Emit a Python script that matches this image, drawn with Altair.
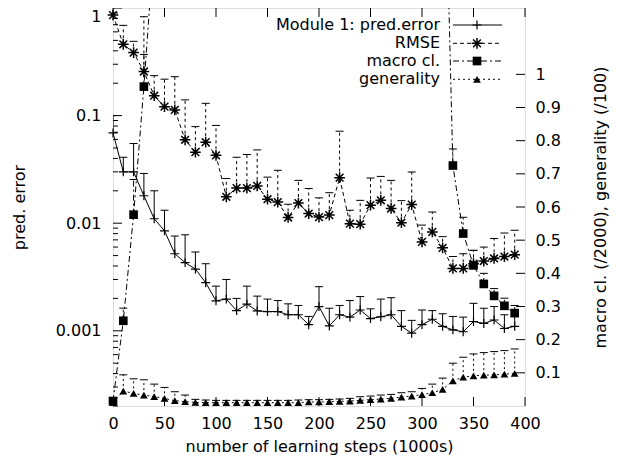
import altair as alt
import pandas as pd

# ---------------- data ----------------
steps = list(range(0, 400, 10))

pred_err = [0.069, 0.030, 0.030, 0.018, 0.011, 0.0085, 0.0052, 0.0043, 0.00375, 0.0028,
            0.0019, 0.00197, 0.00154, 0.00177, 0.00153, 0.00151, 0.00151, 0.00141, 0.00141, 0.00114,
            0.00168, 0.00111, 0.00141, 0.00134, 0.00156, 0.0013, 0.00135, 0.00141, 0.0011, 0.00095,
            0.00114, 0.00128, 0.0011, 0.00102, 0.00098, 0.00122, 0.00117, 0.00126, 0.00105, 0.0011]
pred_err_top = [0.1, 0.041, 0.055, 0.029, 0.020, 0.0132, 0.0076, 0.0078, 0.0054, 0.0042,
                0.0026, 0.0030, 0.0020, 0.0026, 0.0021, 0.00197, 0.00191, 0.00178, 0.00172, 0.00136,
                0.00257, 0.00162, 0.00172, 0.00191, 0.00208, 0.0016, 0.00197, 0.00203, 0.00154, 0.00125,
                0.00156, 0.00154, 0.00144, 0.00136, 0.00134, 0.0018, 0.00162, 0.00168, 0.00141, 0.00136]

rmse = [0.86, 0.46, 0.385, 0.257, 0.153, 0.121, 0.113, 0.0596, 0.0457, 0.0566,
        0.0427, 0.0176, 0.0212, 0.0212, 0.0222, 0.0167, 0.0157, 0.0113, 0.0154, 0.0123,
        0.0114, 0.0119, 0.0265, 0.0099, 0.0098, 0.0147, 0.0163, 0.0137, 0.0101, 0.0149,
        0.0067, 0.0083, 0.0059, 0.0038, 0.0038, 0.0042, 0.00445, 0.0047, 0.0049, 0.0051]
rmse_top = [1.3, 0.69, 0.49, 0.83, 0.235, 0.218, 0.23, 0.14, 0.079, 0.13,
            0.081, 0.026, 0.041, 0.0435, 0.048, 0.0268, 0.031, 0.015, 0.025, 0.021,
            0.0172, 0.0192, 0.0716, 0.0132, 0.0163, 0.0263, 0.0272, 0.025, 0.0162, 0.0299,
            0.0096, 0.0127, 0.0075, 0.0049, 0.0052, 0.0056, 0.006, 0.0072, 0.0081, 0.0086]

macro = [0.015, 0.257, 0.577, 0.963, 1.4, 1.6, 1.75, 1.85, 1.9, 1.95,
         2.0, 2.0, 2.05, 2.05, 2.05, 2.1, 2.1, 2.1, 2.1, 2.1,
         2.1, 2.1, 2.1, 2.1, 2.1, 2.1, 2.1, 2.1, 2.05, 2.05,
         2.05, 2.0, 1.96, 0.725, 0.52, 0.424, 0.368, 0.332, 0.302, 0.28]
macro_top = [0.02, 0.295, 0.683, 1.06, 1.5, 1.7, 1.85, 1.95, 2.0, 2.05,
             2.1, 2.1, 2.15, 2.15, 2.15, 2.2, 2.2, 2.2, 2.2, 2.2,
             2.2, 2.2, 2.2, 2.2, 2.2, 2.2, 2.2, 2.2, 2.15, 2.15,
             2.15, 2.1, 2.06, 0.775, 0.569, 0.469, 0.40, 0.354, 0.325, 0.303]

gen = [0.01, 0.045, 0.038, 0.033, 0.028, 0.023, 0.016, 0.013, 0.011, 0.010,
       0.010, 0.010, 0.010, 0.010, 0.010, 0.010, 0.010, 0.010, 0.010, 0.012,
       0.012, 0.013, 0.014, 0.015, 0.017, 0.019, 0.021, 0.023, 0.027, 0.030,
       0.034, 0.040, 0.050, 0.076, 0.087, 0.091, 0.093, 0.094, 0.096, 0.098]
gen_top = [0.01, 0.094, 0.082, 0.079, 0.066, 0.056, 0.043, 0.033, 0.020, 0.018,
           0.017, 0.017, 0.017, 0.017, 0.017, 0.017, 0.017, 0.017, 0.018, 0.019,
           0.019, 0.020, 0.021, 0.023, 0.028, 0.030, 0.033, 0.035, 0.040, 0.043,
           0.053, 0.066, 0.084, 0.129, 0.147, 0.157, 0.161, 0.164, 0.167, 0.172]

legend_labels = ["Module 1: pred.error", "RMSE", "macro cl.", "generality"]
x_ticks = [0, 50, 100, 150, 200, 250, 300, 350, 400]
left_ticks = [0.001, 0.01, 0.1, 1]
right_ticks = [0.1, 0.2, 0.3, 0.4, 0.5, 0.6, 0.7, 0.8, 0.9, 1.0]
x_title = "number of learning steps (1000s)"
left_title = "pred. error"
right_title = "macro cl. (/2000), generality (/100)"

# ---------------- layout / style ----------------
W, H = 412, 398
FONT = "DejaVu Sans"
FS = 16
BLACK = "black"
LMIN, LMAX = 0.0002, 1
RMAX = 1.2

xscale = alt.Scale(domain=[0, 400], nice=False, zero=False)
yl = alt.Scale(type="log", domain=[LMIN, LMAX], nice=False)
yr = alt.Scale(domain=[0, RMAX], nice=False, zero=False)

x_axis = alt.Axis(values=x_ticks, format="d", ticks=False, domain=False, grid=False,
                  labelFont=FONT, labelFontSize=FS, labelColor=BLACK, labelPadding=22,
                  labelBaseline="alphabetic", labelFlush=False, labelOverlap=False,
                  title=x_title, titleFont=FONT, titleFontSize=FS, titleFontWeight="normal",
                  titleColor=BLACK, titleX=W / 2, titleY=45, titleAlign="center",
                  titleBaseline="alphabetic")
X = alt.X("step:Q", scale=xscale, axis=x_axis)

left_axis = alt.Axis(orient="left", values=left_ticks,
                     labelExpr="datum.value >= 1 ? '1\u00a0\u00a0\u00a0\u00a0\u00a0\u00a0' : format(datum.value, '~g')",
                     ticks=False, domain=False, grid=False,
                     labelFont=FONT, labelFontSize=FS, labelColor=BLACK, labelPadding=12,
                     labelBaseline={"condition": {"test": "datum.value >= 1", "value": "top"},
                                    "value": "middle"},
                     labelFlush=False, labelOverlap=False,
                     title=left_title, titleFont=FONT, titleFontSize=FS, titleFontWeight="normal",
                     titleColor=BLACK, titleX=-94, titleY=H / 2, titleAngle=270,
                     titleAlign="center", titleBaseline="middle")

right_axis = alt.Axis(orient="right", values=right_ticks, format="~g",
                      ticks=False, domain=False, grid=False,
                      labelFont=FONT, labelFontSize=FS, labelColor=BLACK, labelPadding=10,
                      labelAlign="left", labelBaseline="middle", labelFlush=False, labelOverlap=False,
                      title=right_title, titleFont=FONT, titleFontSize=FS, titleFontWeight="normal",
                      titleColor=BLACK, titleX=75, titleY=H / 2, titleAngle=270,
                      titleAlign="center", titleBaseline="middle")

PLUS = "M-1,0L1,0M0,-1L0,1"
STAR = "M-1,0L1,0M0,-1L0,1M-0.72,-0.72L0.72,0.72M-0.72,0.72L0.72,-0.72"


def series(values, tops, yscale, vmax, dash, shape, filled, size, capw, bar_dash=None, sw=1.0):
    df = pd.DataFrame({"step": steps, "v": values, "top": tops})
    base = alt.Chart(df)
    Yv = alt.Y("v:Q", scale=yscale, axis=None)
    Yt = alt.Y("top:Q", scale=yscale, axis=None)
    dkw = {"strokeDash": dash} if dash else {}
    bkw = {"strokeDash": bar_dash} if bar_dash else {}
    line = base.mark_line(color=BLACK, strokeWidth=1, clip=True, **dkw).encode(x=X, y=Yv)
    bar = base.mark_rule(color=BLACK, strokeWidth=1, clip=True, **bkw).encode(
        x=X, y=Yv, y2=alt.Y2("top:Q"))
    cap = base.mark_rule(color=BLACK, strokeWidth=1, clip=True,
                         xOffset=-capw / 2, x2Offset=capw / 2).encode(
        x=X, x2=alt.X2("step:Q"), y=Yt)
    pkw = dict(shape=shape, filled=filled, size=size, color=BLACK, opacity=1)
    if not filled:
        pkw["strokeWidth"] = sw
    pts = base.transform_filter(f"datum.v <= {vmax}").mark_point(**pkw).encode(x=X, y=Yv)
    return [line, bar, cap, pts]


layers = []

# axis tick layers (inward ticks, drawn through the scales)
minor_vals = [m * 10.0 ** e for e in (-4, -3, -2, -1) for m in range(2, 10)]
left_major = alt.Chart(pd.DataFrame({"v": left_ticks})).mark_rule(color=BLACK, strokeWidth=1).encode(
    y=alt.Y("v:Q", scale=yl, axis=left_axis), x=alt.value(0), x2=alt.value(9))
left_minor = alt.Chart(pd.DataFrame({"v": minor_vals})).mark_rule(color=BLACK, strokeWidth=1).encode(
    y=alt.Y("v:Q", scale=yl, axis=None), x=alt.value(0), x2=alt.value(5))
right_major = alt.Chart(pd.DataFrame({"v": right_ticks})).mark_rule(color=BLACK, strokeWidth=1).encode(
    y=alt.Y("v:Q", scale=yr, axis=right_axis), x=alt.value(W - 9), x2=alt.value(W))
bottom_t = alt.Chart(pd.DataFrame({"step": x_ticks})).mark_rule(color=BLACK, strokeWidth=1).encode(
    x=X, y=alt.value(H), y2=alt.value(H - 9))
top_t = alt.Chart(pd.DataFrame({"step": x_ticks})).mark_rule(color=BLACK, strokeWidth=1).encode(
    x=X, y=alt.value(0), y2=alt.value(9))
layers += [left_major, left_minor, right_major, bottom_t, top_t]

# data series
layers += series(pred_err, pred_err_top, yl, LMAX, None, PLUS, False, 80, 8, sw=1.2)
layers += series(rmse, rmse_top, yl, LMAX, [4, 3], STAR, False, 115, 8, bar_dash=[3, 3], sw=1.5)
layers += series(macro, macro_top, yr, RMAX, [6, 3, 2, 3], "square", True, 75, 8, bar_dash=[6, 3, 2, 3])
layers += series(gen, gen_top, yr, RMAX, [2, 3], "triangle-up", True, 60, 8, bar_dash=[2, 3])

# legend (top right, inside the frame)
row_y = [17, 35.3, 53, 71.3]
styles = [(None, PLUS, False, 80, 1.2), ([4, 3], STAR, False, 115, 1.5),
          ([6, 3, 2, 3], "square", True, 75, 1), ([2, 3], "triangle-up", True, 60, 1)]
one = pd.DataFrame({"a": [0]})
for lab, yy, (dash, shape, filled, size, sw) in zip(legend_labels, row_y, styles):
    layers.append(alt.Chart(one).mark_text(align="right", baseline="middle", font=FONT,
                                           fontSize=FS, color=BLACK).encode(
        x=alt.value(327), y=alt.value(yy), text=alt.value(lab)))
    dkw = {"strokeDash": dash} if dash else {}
    layers.append(alt.Chart(one).mark_rule(color=BLACK, strokeWidth=1, **dkw).encode(
        x=alt.value(340), x2=alt.value(389), y=alt.value(yy)))
    pkw = dict(shape=shape, filled=filled, size=size, color=BLACK, opacity=1)
    if not filled:
        pkw["strokeWidth"] = sw
    layers.append(alt.Chart(one).mark_point(**pkw).encode(x=alt.value(364), y=alt.value(yy)))

chart = alt.layer(*layers).resolve_scale(y="independent").properties(
    width=W, height=H,
    autosize=alt.AutoSizeParams(type="none"),
    padding={"left": 105, "top": 0, "right": 85, "bottom": 51},
).configure_view(stroke=BLACK, strokeWidth=2).configure(background="white")

chart.save("out.html", embed_options={"renderer": "svg", "actions": False})
